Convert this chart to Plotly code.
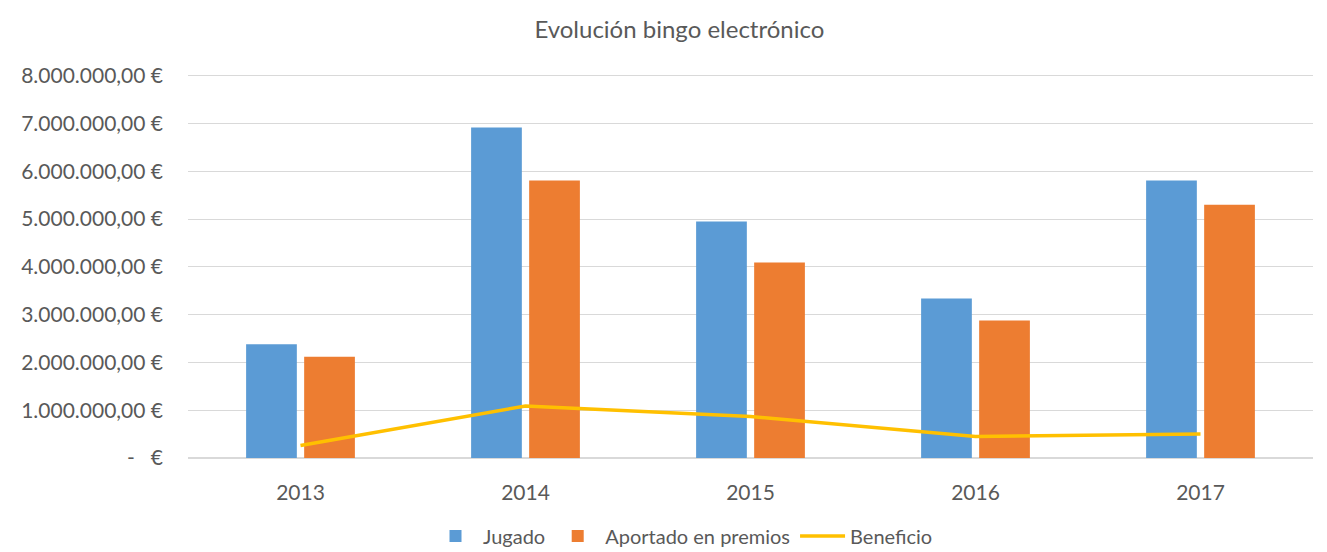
import plotly.graph_objects as go

years = ["2013", "2014", "2015", "2016", "2017"]
jugado = [2380000, 6920000, 4950000, 3340000, 5810000]
aportado = [2120000, 5810000, 4090000, 2880000, 5300000]
beneficio = [260000, 1090000, 870000, 450000, 500000]

tick_vals = [0, 1000000, 2000000, 3000000, 4000000, 5000000, 6000000, 7000000, 8000000]
tick_text = ["-   €", "1.000.000,00 €", "2.000.000,00 €", "3.000.000,00 €", "4.000.000,00 €",
             "5.000.000,00 €", "6.000.000,00 €", "7.000.000,00 €", "8.000.000,00 €"]

FONT = "Lato, 'Open Sans', sans-serif"
GREY = "#595959"

fig = go.Figure()
fig.add_trace(go.Bar(x=years, y=jugado, name="Jugado", marker=dict(color="#5B9BD5", line=dict(width=0))))
fig.add_trace(go.Bar(x=years, y=aportado, name="Aportado en premios", marker=dict(color="#ED7D31", line=dict(width=0))))
fig.add_trace(go.Scatter(x=years, y=beneficio, name="Beneficio", mode="lines",
                         line=dict(color="#FFC000", width=3.5)))

fig.update_layout(
    width=1319, height=544,
    margin=dict(l=180, r=14, t=63, b=94, autoexpand=False),
    paper_bgcolor="white", plot_bgcolor="white",
    title=dict(text="Evolución bingo electrónico", x=0.509, xanchor="center", y=0.9596, yanchor="middle",
               font=dict(family=FONT, size=24, color=GREY)),
    barmode="group", bargap=0.484, bargroupgap=0.126,
    font=dict(family=FONT, size=21, color=GREY),
    legend=dict(orientation="h", x=0.44, xanchor="center", y=-0.2015, yanchor="middle",
                font=dict(family=FONT, size=20, color=GREY), traceorder="normal",
                itemwidth=45),
    showlegend=True,
)
fig.update_xaxes(showgrid=False, showline=False, ticks="", tickfont=dict(size=21, color=GREY),
                 ticklabelstandoff=20, automargin=False)
fig.update_yaxes(range=[0, 8100000], tickvals=tick_vals, ticktext=tick_text,
                 showgrid=True, gridcolor="#D9D9D9", gridwidth=1.2,
                 zeroline=True, zerolinecolor="#D9D9D9", zerolinewidth=1.5,
                 showline=False, ticks="", ticklabelstandoff=24, automargin=False,
                 tickfont=dict(size=21, color=GREY))

fig.write_html("out.html")
